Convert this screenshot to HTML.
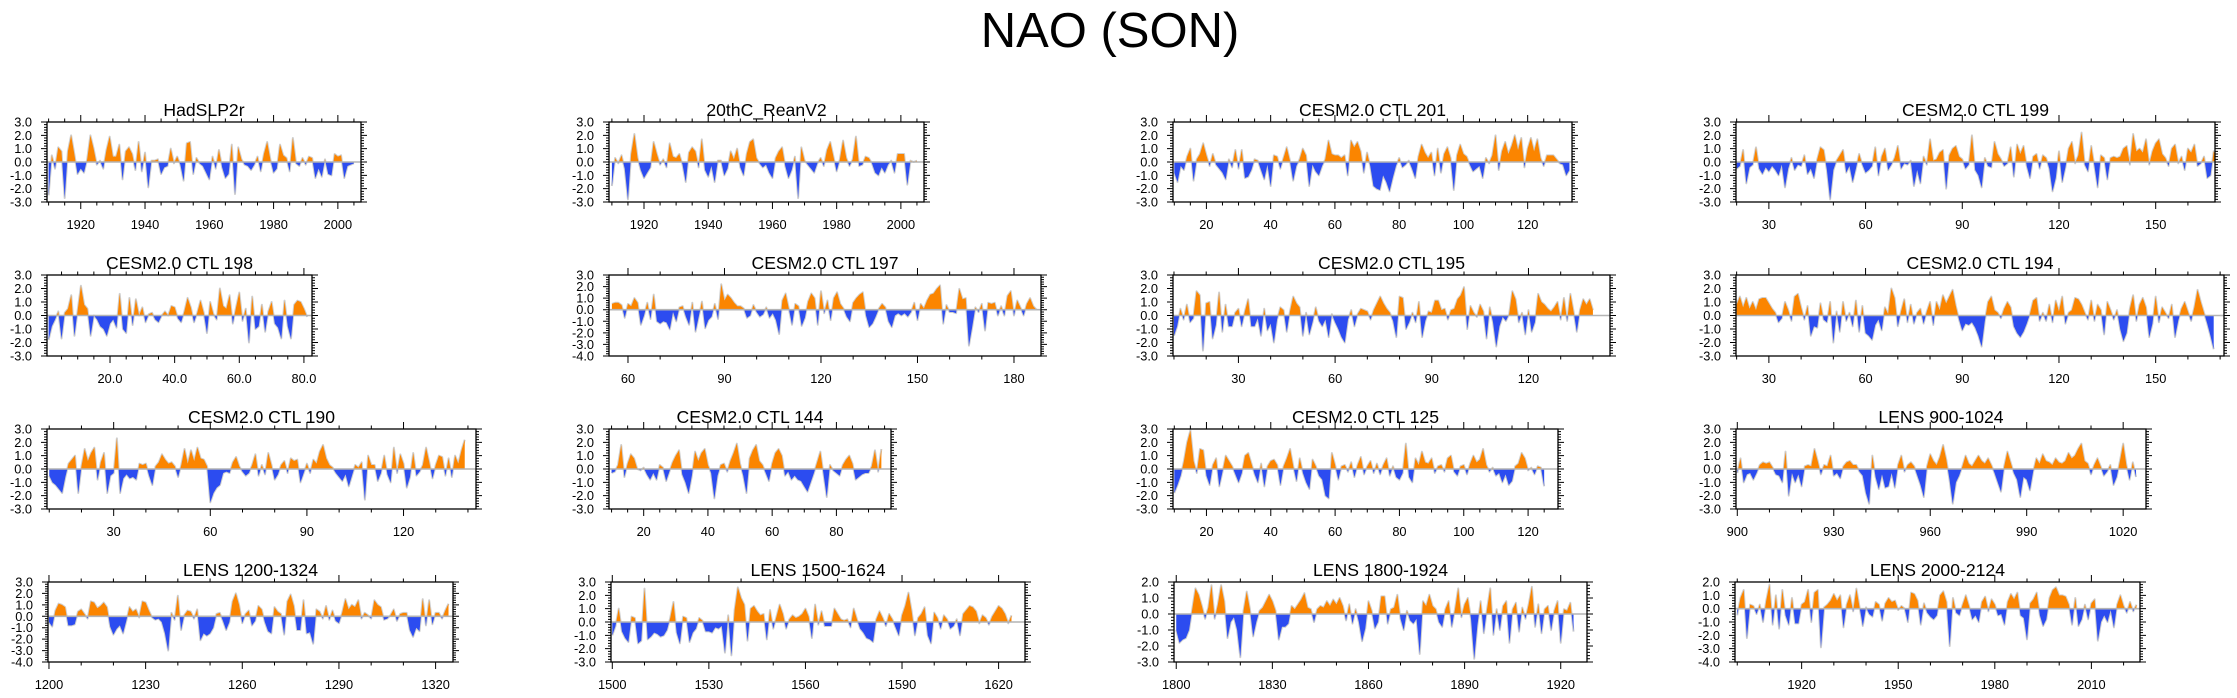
<!DOCTYPE html>
<html>
<head>
<meta charset="utf-8">
<style>
html,body{margin:0;padding:0;background:#fff;}
svg{display:block;font-family:"Liberation Sans",Arial,sans-serif;}
</style>
</head>
<body>
<svg id="chart" width="2237" height="698" viewBox="0 0 2237 698" xmlns="http://www.w3.org/2000/svg">
<rect width="2237" height="698" fill="#fff"/>
<text x="1110" y="47" font-size="49" text-anchor="middle" fill="#000">NAO (SON)</text>
</svg>
<script>
// ---------- data (one value per year) ----------
const hadslpStart = 1910;
const hadslpValues = [-2.5,0.5,-0.5,1.1,0.8,-2.7,0.8,2.0,0.6,-0.9,-0.5,-0.8,0.2,2.0,1.0,-0.2,0.1,-0.5,0.9,1.9,0.4,0.4,1.3,-1.3,0.8,1.1,0.6,-0.6,1.5,-0.7,0.7,-1.9,0.1,0.1,0.2,-0.9,-0.4,-0.3,1.0,-0.1,0.4,-0.2,-1.4,1.4,1.5,-0.9,0.3,-0.1,-0.3,-0.8,-1.3,0.4,-0.5,0.9,-0.4,-1.2,-0.9,1.3,-2.4,1.1,0.2,-0.2,-0.3,-0.6,-0.2,0.4,-0.7,0.6,1.5,0.2,-0.8,-0.5,1.3,0.5,0.3,-0.7,1.8,-0.1,-0.3,0.3,-0.2,0.4,0.3,-1.2,-0.5,-1.1,0.2,-0.9,-1.0,0.6,0.4,0.5,-1.2,-0.3,-0.2,-0.1];
const reanStart = 1910;
const reanValues = [-1.8,0.3,-0.1,0.5,-0.5,-2.8,0.6,2.1,0.3,-0.6,-1.2,-0.8,-0.4,1.5,0.6,-0.2,0.2,-0.4,1.4,0.4,0.3,0.6,-0.2,-1.5,0.7,1.1,0.8,-0.4,1.7,-0.6,-1.1,-0.3,-1.5,0.1,0.1,-1.0,-0.5,0.8,0.2,1.0,-0.4,-1.0,0.6,1.5,1.7,0.3,-0.1,-0.4,-0.2,-0.8,-1.2,0.3,0.8,1.1,-0.3,-1.2,-0.6,0.4,-2.7,1.1,0.1,-0.2,-0.5,-0.8,-0.1,0.3,-0.3,0.9,1.5,0.4,-0.7,0.2,1.6,0.3,-0.3,0.2,1.9,-0.3,-0.2,0.4,0.3,-0.1,-0.8,-1.0,-0.4,-0.8,-0.2,0.1,-0.8,0.6,0.6,0.6,-1.7,0.1,0.0,0.1];
const ctl201Start = 10;
const ctl201Values = [-0.8,-1.5,-0.3,-0.6,0.4,1.0,-1.4,0.2,0.6,1.4,0.5,-0.3,0.6,-0.2,-0.5,-0.8,-1.3,0.2,-0.4,0.9,-0.5,0.9,-1.2,-1.1,-0.6,0.2,0.1,-0.6,-1.3,-0.2,-1.8,0.5,0.4,-0.5,0.3,1.1,0.1,-1.4,-0.3,0.2,1.0,0.5,-1.8,-0.2,-0.7,-1.0,-0.3,0.2,1.6,0.6,0.5,0.5,0.3,0.5,-1.0,1.6,1.1,1.5,0.8,-0.8,0.7,-0.3,-1.8,-2.0,-2.1,-1.0,-1.5,-2.2,-1.2,-0.3,0.3,-0.4,-0.2,0.1,-0.5,-1.2,0.4,1.3,0.7,0.3,0.7,-1.0,1.0,-0.8,0.6,1.1,0.3,-2.1,0.5,1.3,0.6,0.4,-0.2,-0.7,-0.5,-0.3,-1.2,0.3,-0.1,0.5,2.0,-0.6,0.8,1.5,0.6,1.2,2.0,0.9,1.8,-0.4,1.0,1.8,0.8,1.7,0.3,-0.3,0.5,0.5,0.5,0.2,-0.1,-0.2,-1.0,-0.6];
const ctl199Start = 20;
const ctl199Values = [-0.5,-0.3,0.9,-1.6,-0.4,-0.2,1.1,-0.5,-0.9,-0.4,-0.7,-0.3,-0.6,-1.0,-0.2,-1.9,-0.5,0.3,-0.6,-0.2,-0.3,0.5,-0.9,-0.5,-1.2,0.2,1.1,0.9,-0.6,-2.8,-0.6,0.1,0.5,0.9,-0.8,-0.3,-1.5,-0.5,0.6,-0.2,-0.8,-0.6,-0.3,1.1,-1.0,0.4,1.0,-0.6,-0.2,0.3,1.2,-0.5,-0.1,-0.2,0.1,-1.8,-0.6,-1.6,0.4,-0.2,1.7,0.1,0.2,0.7,0.9,-2.0,0.5,1.0,1.2,0.4,0.2,-0.5,-0.2,2.0,-0.6,-1.0,-1.9,0.3,-0.3,-0.4,1.5,0.6,0.2,-0.3,-0.1,1.1,-1.1,1.3,0.6,1.2,-0.3,-1.2,0.4,0.6,-0.5,0.5,0.3,-0.5,-2.2,-1.2,0.8,-1.5,-0.4,1.0,1.5,-0.1,0.5,2.2,-0.2,-0.7,1.2,-0.3,-1.9,0.5,0.3,-1.3,0.3,0.4,0.3,0.4,1.0,1.2,-0.2,2.1,0.8,1.0,0.7,1.7,-0.2,0.8,1.4,1.7,0.6,0.3,-0.3,1.0,1.3,-0.1,0.4,-0.6,1.0,0.7,1.3,-0.3,-0.1,0.4,-1.2,-1.0,0.8,0.4,-0.3,0.5];
const ctl198Start = 1;
const ctl198Values = [-1.8,-0.8,-0.3,0.3,-1.7,0.2,0.5,1.5,-1.5,0.4,2.2,0.8,0.5,-1.5,0.0,-0.3,-0.8,-1.0,-1.5,-0.6,-0.3,-0.9,1.6,-1.0,-1.3,1.3,-0.7,1.2,0.0,0.6,-0.5,0.1,0.2,-0.3,-0.5,0.0,0.3,0.0,0.7,0.6,-0.2,-0.5,0.3,1.3,0.6,-0.5,0.2,1.1,0.2,-1.3,1.0,0.1,-0.3,2.0,0.7,0.5,1.5,-0.6,0.6,1.7,-0.4,0.5,-2.0,1.4,-1.0,-0.8,0.8,-1.2,0.3,1.0,-0.6,-0.9,-1.7,1.1,-0.8,-1.7,0.8,1.1,1.0,0.5,-0.1];
const ctl197Start = 55;
const ctl197Values = [0.5,0.6,0.6,0.4,-0.7,0.5,0.3,1.0,0.6,-1.3,-0.5,0.6,-0.8,1.3,-1.0,-1.2,-1.0,-1.1,-1.7,-0.2,-1.0,0.2,0.3,-0.6,-1.3,0.6,-1.9,-0.6,0.7,-1.6,-0.9,-0.6,0.5,-0.8,2.2,0.8,1.3,1.0,0.6,0.3,0.3,0.1,-0.7,-0.5,0.4,-0.2,-0.6,-0.4,0.2,-0.7,-0.3,-0.9,-2.1,0.8,1.4,0.1,-1.3,0.5,0.3,-1.4,-0.7,0.7,1.4,1.0,-1.3,1.6,-0.3,0.8,-0.9,1.0,1.5,0.5,0.1,-0.6,-1.0,0.6,1.0,1.3,1.5,-0.5,-1.5,-1.2,-0.6,0.1,0.5,0.2,-1.0,-1.5,-0.5,-0.3,-0.5,-0.3,-0.6,-0.2,0.6,-0.9,0.5,0.1,0.8,1.3,1.4,1.8,2.1,-1.2,0.4,-0.2,-0.2,-0.3,1.8,0.9,1.0,-3.1,-1.5,0.2,-0.2,0.5,-1.8,0.6,0.5,0.6,-0.5,0.3,-0.5,1.2,1.6,-0.5,0.8,0.2,-0.5,0.5,1.0,0.3,0.0];
const ctl195Start = 10;
const ctl195Values = [-1.5,-0.8,0.5,-0.3,0.8,-0.5,-0.2,1.8,1.5,-2.6,0.9,1.0,-1.7,-0.7,1.7,-1.2,0.8,-0.8,-0.8,0.2,0.5,-0.8,0.3,1.2,-0.8,-0.8,-0.2,-1.5,0.5,-1.1,-0.6,-2.0,-0.3,0.6,0.4,-1.2,0.3,1.4,0.9,0.6,-1.5,0.2,-1.4,-0.5,0.6,-0.4,-0.8,-0.3,-1.6,0.1,-0.5,-1.0,-1.6,-2.0,-0.3,0.4,-0.8,0.1,0.5,0.4,0.3,-0.3,0.4,0.9,1.4,0.9,0.5,0.2,-0.4,-1.6,1.4,1.3,-1.0,-0.5,0.2,-0.5,1.0,-1.6,-0.4,0.3,0.2,1.1,1.1,0.4,0.5,-0.3,0.4,0.5,1.2,1.5,2.1,-1.0,0.7,0.2,-0.1,0.8,0.3,-1.7,0.6,-0.5,-2.3,-0.8,-0.1,-0.4,0.1,1.8,1.2,-0.5,0.2,-1.4,0.4,-1.2,-0.5,1.6,1.0,0.8,0.5,0.3,0.6,1.0,-0.3,1.3,-0.4,1.6,0.3,-1.2,0.4,1.2,0.8,1.2,0.4];
const ctl194Start = 20;
const ctl194Values = [0.8,1.4,0.6,1.3,0.5,1.0,0.4,1.2,1.3,1.3,0.9,0.5,0.2,-0.5,-0.2,1.0,0.4,-0.4,1.4,1.6,0.6,-0.3,0.7,-1.5,-0.8,-0.9,0.9,-0.3,-0.5,1.0,-2.0,0.3,-1.2,1.0,-0.4,0.2,-0.8,1.1,-1.2,0.7,-1.3,-1.5,-1.8,-0.7,-0.3,-1.1,0.6,0.1,2.0,1.3,-0.8,0.3,1.2,-0.5,0.8,-0.6,0.2,0.5,-0.6,0.3,1.0,-0.7,1.0,0.4,1.5,0.9,1.4,1.9,0.7,-0.3,-1.1,-0.6,-0.7,-0.5,-0.9,-1.5,-2.3,-0.4,1.0,1.4,0.4,0.2,-0.2,0.5,1.0,0.6,-0.8,-1.3,-1.6,-1.2,-0.6,0.1,1.1,1.3,-0.4,0.2,-0.4,0.8,-0.5,1.1,0.3,1.4,-0.6,0.2,0.4,1.3,1.2,0.8,0.2,-0.3,1.1,-0.4,0.8,0.4,-1.4,1.0,0.4,-0.3,0.4,-1.0,-1.9,-1.3,0.5,1.5,-0.4,0.8,1.3,0.6,-1.6,-0.6,1.4,-0.5,0.6,0.2,-0.2,0.8,-1.6,-0.4,0.5,1.0,0.3,-0.4,0.6,1.9,1.0,0.2,-0.6,-1.5,-2.5];
const ctl190Start = 10;
const ctl190Values = [-0.5,-1.0,-1.2,-1.5,-1.8,-0.6,0.4,0.7,1.0,-1.8,0.2,1.5,0.6,1.2,1.6,-0.8,0.5,1.2,-1.8,-0.5,-0.3,2.3,-1.8,-0.7,-0.4,-0.7,-0.6,-0.8,0.4,0.3,0.4,-0.5,-1.2,0.2,0.5,1.1,0.7,0.4,0.5,0.2,-0.6,0.3,1.5,0.4,1.4,0.6,1.6,0.8,0.7,0.2,-2.5,-1.8,-1.4,-1.2,-0.3,-0.2,-0.3,0.5,0.9,0.2,-0.2,-0.5,-0.3,0.3,1.1,-0.5,0.3,-0.4,1.2,0.3,-0.8,-0.4,0.3,0.6,-0.3,0.8,0.6,0.7,-1.0,-0.3,0.4,-0.3,0.7,0.4,1.3,1.8,0.8,0.3,0.1,-0.3,-0.6,-0.9,-0.4,-1.3,-0.5,0.3,0.1,0.5,-2.3,1.0,0.3,0.3,-0.9,-0.3,1.0,-0.4,-1.0,1.6,-0.3,1.1,0.4,-1.4,-0.6,1.2,-0.5,-0.2,0.3,1.6,0.5,-0.7,0.3,1.0,0.9,-0.5,0.8,-0.6,1.0,0.4,1.4,2.2];
const ctl144Start = 10;
const ctl144Values = [-0.3,-0.2,0.3,1.8,-0.6,0.4,1.1,0.8,0.0,-0.1,0.1,-0.4,-0.8,-0.3,-0.8,0.3,0.1,-0.9,-0.2,0.5,1.0,1.4,-0.4,-1.0,-1.8,-0.5,1.3,0.6,1.2,1.5,0.3,-0.3,-2.2,-0.5,0.3,0.4,-0.2,0.6,1.2,1.9,0.4,-0.5,-1.8,0.8,1.4,1.8,0.6,0.3,-0.3,-0.9,0.4,1.2,1.5,1.0,-0.5,-0.2,-0.8,-0.5,-0.8,-0.9,-1.3,-1.7,-1.0,-0.3,0.5,1.3,-0.4,-2.1,0.3,-0.1,-0.3,-0.5,0.3,0.7,1.0,0.4,-0.8,-0.6,-0.4,-0.3,-0.3,0.2,1.4,-0.2,1.5];
const ctl125Start = 10;
const ctl125Values = [-1.8,-1.2,-0.5,0.6,2.0,2.9,0.6,-0.3,1.5,1.4,-0.5,-1.2,0.3,0.8,-1.3,-0.2,1.0,0.6,0.2,-0.4,-1.0,-0.3,1.0,1.2,0.4,-0.4,-1.0,0.4,-1.3,0.2,0.6,0.7,0.3,-1.2,0.2,0.8,1.5,0.2,-0.9,0.8,-0.3,-1.0,-1.5,0.7,0.2,-0.5,-0.8,-2.0,-2.2,1.2,0.3,-0.8,0.2,0.3,-0.2,0.5,-0.6,0.3,0.9,-0.4,0.2,0.6,-0.3,0.4,-0.4,0.3,0.8,-0.5,0.2,-0.6,-0.8,-0.3,1.9,-0.6,-1.0,0.8,0.3,1.3,0.5,0.4,0.8,-0.3,0.2,0.3,-0.2,0.8,1.0,-0.2,-0.5,0.2,0.3,-0.4,0.4,1.0,0.5,0.7,1.5,0.3,-0.2,0.1,-0.5,-0.3,-1.0,-0.4,-1.2,-0.9,0.2,0.4,1.2,0.8,-0.1,0.1,-0.4,0.2,0.1,-1.3];
const lens900Start = 900;
const lens900Values = [-0.3,0.8,-1.0,-0.4,-0.3,-0.8,-0.3,0.3,0.5,0.4,0.5,0.1,-0.4,-0.5,-1.0,1.3,-2.0,-0.3,-1.0,-0.4,-1.3,0.2,0.3,0.2,1.5,0.6,-0.4,0.3,0.2,1.0,-0.5,-0.3,-0.7,0.2,0.5,0.6,0.3,0.3,-0.2,-0.5,-1.8,-2.6,1.0,-0.6,-1.5,-0.4,-1.4,-1.3,-0.3,-1.4,0.3,1.0,-0.2,0.3,0.5,0.2,-0.5,-1.2,-2.1,0.2,1.1,0.6,0.3,0.9,1.8,0.7,-0.8,-2.6,-1.0,-0.5,0.2,1.0,0.4,0.2,0.6,1.0,0.6,0.4,0.8,0.3,-0.3,-1.0,-1.7,0.2,1.3,0.5,-0.3,-0.8,-2.1,-0.6,-0.8,-1.6,-0.2,0.8,0.4,1.1,0.6,0.5,0.3,0.8,0.5,0.4,0.6,1.2,0.8,1.0,1.5,1.9,0.6,0.4,-0.4,0.3,0.8,0.2,-0.5,-0.2,0.3,-1.2,-0.6,0.6,1.9,0.3,-0.8,0.5,-0.6];
const lens1200Start = 1200;
const lens1200Values = [-0.5,-0.9,0.5,1.1,1.0,0.8,-0.8,-0.8,-0.7,0.4,0.6,0.2,-0.2,1.3,1.2,0.7,0.9,1.2,0.8,-0.9,-1.6,-1.1,-0.8,-1.5,-0.4,0.8,0.4,0.6,-0.1,1.3,1.2,0.5,-0.1,-0.3,-0.2,-0.5,-1.5,-3.0,0.3,-0.3,1.8,-1.2,0.1,0.5,0.4,-0.2,0.6,-2.1,-1.5,-1.7,-1.5,-1.0,0.2,0.3,-0.4,-1.2,-0.5,1.3,2.0,1.0,-0.6,0.2,0.5,-0.8,-0.4,0.9,0.6,-0.5,-1.3,-1.5,0.8,0.4,0.2,-1.6,1.3,1.9,0.9,-1.2,-1.2,1.4,-1.5,-1.4,-2.4,0.6,0.4,-0.2,0.9,-0.3,0.5,-0.4,-0.6,0.3,1.5,0.6,1.0,0.8,1.4,-0.2,0.3,0.1,-0.2,1.4,1.0,0.8,-0.3,-0.2,0.1,0.6,-0.4,0.2,0.3,0.3,-1.2,-1.8,-1.0,-1.3,1.5,-0.8,1.4,-0.7,0.3,0.3,-0.2,0.5,1.1];
const lens1500Start = 1500;
const lens1500Values = [-1.0,-0.3,1.0,-0.7,-1.2,-1.5,0.4,0.3,-1.6,-1.4,2.5,-1.3,-1.1,-0.8,-0.9,-1.1,-1.0,-0.6,0.3,1.5,-0.8,-1.6,0.4,0.3,-1.5,-0.8,-0.5,0.3,0.1,-0.7,-0.7,-0.8,-0.4,-0.5,-0.3,-2.3,0.5,-2.5,0.9,2.6,1.8,1.3,-1.4,1.0,1.2,0.8,0.5,0.6,-1.3,0.9,-0.5,0.4,1.3,0.6,-0.5,0.2,0.5,0.3,0.4,0.6,1.0,0.4,-1.2,1.3,-0.2,0.8,-0.3,-0.3,-0.3,1.0,0.6,0.2,0.1,0.2,-0.4,1.0,0.2,-0.5,-0.8,-1.2,-1.3,-1.5,0.2,0.8,0.3,-0.3,0.6,0.2,-0.4,-1.0,0.5,1.2,2.2,0.8,-1.0,0.3,0.6,1.1,-1.0,-1.6,0.7,0.3,-0.5,0.5,0.2,-0.5,-0.3,0.2,-1.0,0.6,0.9,1.2,1.1,0.8,-0.1,0.5,0.3,-0.2,0.4,0.8,1.2,1.0,0.6,-0.1,0.5];
const lens1800Start = 1800;
const lens1800Values = [-1.0,-1.8,-1.6,-1.5,-1.0,0.3,1.6,1.2,0.5,-0.3,0.4,1.8,-0.3,0.6,1.8,0.8,-1.5,-0.5,-0.2,-1.0,-2.7,0.2,1.4,0.3,-1.4,-0.5,0.2,0.4,0.8,1.2,0.8,0.2,-1.6,-0.8,-0.8,-0.6,0.5,0.3,0.6,0.9,1.3,0.4,0.3,-0.5,0.3,0.5,0.4,0.8,0.5,0.9,0.6,1.0,0.5,-0.4,0.6,-0.6,0.3,-0.5,-1.7,-0.9,0.8,0.2,-0.9,-0.5,1.1,1.1,-0.6,0.3,0.4,1.2,-0.3,-1.0,0.2,-0.4,-0.6,-0.3,-2.5,0.8,0.5,1.2,0.5,0.3,-0.5,-0.8,0.3,0.8,-0.8,0.3,1.6,-0.2,0.6,1.0,-0.3,-2.8,-0.7,0.8,-1.2,0.3,1.6,-1.3,0.3,-1.0,0.5,0.8,-1.8,0.3,0.7,-1.1,0.4,-0.3,0.6,1.7,-0.8,0.6,-1.2,0.3,0.5,-1.0,0.2,0.8,-1.8,0.3,0.2,0.7,-1.1];
const lens2000Start = 1900;
const lens2000Values = [-0.5,0.8,1.4,-2.2,0.3,0.2,-0.4,0.3,-1.0,0.6,1.8,-1.2,1.0,-1.5,1.4,-0.5,-1.2,0.8,-1.1,-1.1,0.3,0.5,1.4,-1.0,1.2,1.4,-2.9,0.1,0.3,0.6,1.1,0.6,1.0,-1.4,0.3,1.0,-0.2,1.5,0.1,-1.3,0.1,-0.4,-0.6,0.5,0.3,-0.9,0.4,0.8,0.5,0.6,-0.1,0.2,0.0,-1.0,1.2,1.1,0.6,-1.2,0.4,-0.3,-0.6,-0.8,-0.5,1.0,1.3,0.5,-2.8,0.8,-0.3,-0.5,0.3,1.0,0.2,-0.8,-0.5,-1.0,0.5,0.9,-0.2,0.7,0.3,-0.5,-0.4,-1.2,0.5,1.1,0.7,1.2,-0.5,-0.7,-2.3,0.4,0.7,1.2,-0.5,-1.3,-0.8,0.8,1.4,1.6,1.0,1.0,0.9,0.3,-1.2,0.8,-1.3,-0.8,0.3,-0.8,0.4,0.7,-2.4,-1.0,-0.5,-1.0,-0.1,-1.4,0.3,1.0,0.2,-0.3,0.5,-0.2,0.3];

// ---------- panel layout ----------
const panels = [
 {name:'hadslp2r', title:'HadSLP2r', start:hadslpStart, vals:hadslpValues, l:47, r:361, t:122, b:202, x0:1909.5, x1:2007.2, y0:-3, y1:3, maj:20, min:5, dec:0},
 {name:'20thc-reanv2', title:'20thC_ReanV2', start:reanStart, vals:reanValues, l:609, r:924, t:122, b:202, x0:1909.1, x1:2007.2, y0:-3, y1:3, maj:20, min:5, dec:0},
 {name:'ctl-201', title:'CESM2.0 CTL 201', start:ctl201Start, vals:ctl201Values, l:1173, r:1572, t:122, b:202, x0:9.6, x1:133.8, y0:-3, y1:3, maj:20, min:5, dec:0},
 {name:'ctl-199', title:'CESM2.0 CTL 199', start:ctl199Start, vals:ctl199Values, l:1736, r:2215, t:122, b:202, x0:19.8, x1:168.4, y0:-3, y1:3, maj:30, min:10, dec:0},
 {name:'ctl-198', title:'CESM2.0 CTL 198', start:ctl198Start, vals:ctl198Values, l:47, r:312, t:275, b:356, x0:0.5, x1:82.5, y0:-3, y1:3, maj:20, min:5, dec:1},
 {name:'ctl-197', title:'CESM2.0 CTL 197', start:ctl197Start, vals:ctl197Values, l:609, r:1041, t:275, b:356, x0:54.1, x1:188.4, y0:-4, y1:3, maj:30, min:10, dec:0},
 {name:'ctl-195', title:'CESM2.0 CTL 195', start:ctl195Start, vals:ctl195Values, l:1173, r:1610, t:275, b:356, x0:9.7, x1:145.3, y0:-3, y1:3, maj:30, min:10, dec:0},
 {name:'ctl-194', title:'CESM2.0 CTL 194', start:ctl194Start, vals:ctl194Values, l:1736, r:2224, t:275, b:356, x0:19.8, x1:171.2, y0:-3, y1:3, maj:30, min:10, dec:0},
 {name:'ctl-190', title:'CESM2.0 CTL 190', start:ctl190Start, vals:ctl190Values, l:47, r:476, t:429, b:509, x0:9.3, x1:142.5, y0:-3, y1:3, maj:30, min:10, dec:0},
 {name:'ctl-144', title:'CESM2.0 CTL 144', start:ctl144Start, vals:ctl144Values, l:609, r:891, t:429, b:509, x0:9.2, x1:97, y0:-3, y1:3, maj:20, min:5, dec:0},
 {name:'ctl-125', title:'CESM2.0 CTL 125', start:ctl125Start, vals:ctl125Values, l:1173, r:1558, t:429, b:509, x0:9.6, x1:129.3, y0:-3, y1:3, maj:20, min:5, dec:0},
 {name:'lens-900-1024', title:'LENS 900-1024', start:lens900Start, vals:lens900Values, l:1736, r:2146, t:429, b:509, x0:899.6, x1:1027.1, y0:-3, y1:3, maj:30, min:10, dec:0},
 {name:'lens-1200-1324', title:'LENS 1200-1324', start:lens1200Start, vals:lens1200Values, l:48, r:453, t:582, b:662, x0:1199.7, x1:1325.4, y0:-4, y1:3, maj:30, min:10, dec:0},
 {name:'lens-1500-1624', title:'LENS 1500-1624', start:lens1500Start, vals:lens1500Values, l:611, r:1025, t:582, b:662, x0:1499.6, x1:1628.2, y0:-3, y1:3, maj:30, min:10, dec:0},
 {name:'lens-1800-1924', title:'LENS 1800-1924', start:lens1800Start, vals:lens1800Values, l:1174, r:1587, t:582, b:662, x0:1799.3, x1:1928.2, y0:-3, y1:2, maj:30, min:10, dec:0},
 {name:'lens-2000-2124', title:'LENS 2000-2124', start:lens2000Start, vals:lens2000Values, l:1735, r:2140, t:582, b:662, x0:1899.3, x1:2025.1, y0:-4, y1:2, maj:30, min:10, dec:0}
];

const NS = 'http://www.w3.org/2000/svg';
const svg = document.getElementById('chart');
function mk(tag, attrs, parent){
  const e = document.createElementNS(NS, tag);
  for (const k in attrs) e.setAttribute(k, attrs[k]);
  (parent || svg).appendChild(e);
  return e;
}

panels.forEach(function(p, pi){
  const g = mk('g', {});
  
  
  const xs = function(v){ return p.l + (v - p.x0) / (p.x1 - p.x0) * (p.r - p.l); };
  const ys = function(v){ return p.b - (v - p.y0) / (p.y1 - p.y0) * (p.b - p.t); };
  const zy = ys(0);

  // clip paths
  const defs = mk('defs', {}, g);
  const cpA = mk('clipPath', {id:'ca' + pi}, defs);
  mk('rect', {x:p.l, y:p.t, width:p.r - p.l, height:zy - p.t}, cpA);
  const cpB = mk('clipPath', {id:'cb' + pi}, defs);
  mk('rect', {x:p.l, y:zy, width:p.r - p.l, height:p.b - zy}, cpB);
  const cpBox = mk('clipPath', {id:'cx' + pi}, defs);
  mk('rect', {x:p.l, y:p.t, width:p.r - p.l, height:p.b - p.t}, cpBox);

  const pts = p.vals.map(function(v, i){ return xs(p.start + i).toFixed(2) + ',' + ys(v).toFixed(2); });
  const firstX = xs(p.start).toFixed(2), lastX = xs(p.start + p.vals.length - 1).toFixed(2);
  const poly = firstX + ',' + zy.toFixed(2) + ' ' + pts.join(' ') + ' ' + lastX + ',' + zy.toFixed(2);

  const wrap = mk('g', {'clip-path':'url(#cx' + pi + ')'}, g);
  const line = mk('polyline', {points:pts.join(' '), fill:'none', stroke:'#cfcfcf', 'stroke-width':2, 'stroke-linejoin':'round'}, wrap);
  
  
  const pos = mk('polygon', {points:poly, fill:'#fb8500', 'clip-path':'url(#ca' + pi + ')'}, wrap);
  
  
  const neg = mk('polygon', {points:poly, fill:'#2c4cf0', 'clip-path':'url(#cb' + pi + ')'}, wrap);
  
  
  const zl = mk('line', {x1:p.l, x2:p.r, y1:zy, y2:zy, stroke:'#b4b4b4', 'stroke-width':1.6}, g);
  
  

  // frame
  const box = mk('rect', {x:p.l, y:p.t, width:p.r - p.l, height:p.b - p.t, fill:'none', stroke:'#000', 'stroke-width':1.3}, g);
  
  

  // y ticks
  let tp = '';
  const nMinY = Math.round((p.y1 - p.y0) / 0.2);
  for (let k = 0; k <= nMinY; k++) {
    const v = p.y0 + k * 0.2;
    const y = ys(v).toFixed(2);
    const major = Math.abs(v - Math.round(v)) < 1e-6;
    const len = major ? 6 : 3;
    tp += 'M' + (p.l - len) + ' ' + y + 'H' + p.l + 'M' + p.r + ' ' + y + 'H' + (p.r + len);
    if (major) {
      const t = mk('text', {x:p.l - 15, y:(+y + 4.5).toFixed(2), 'font-size':12.8, 'text-anchor':'end', fill:'#000'}, g);
      t.textContent = Math.round(v).toFixed(1);
      
      
    }
  }
  // x ticks
  const firstMin = Math.ceil(p.x0 / p.min) * p.min;
  for (let v = firstMin; v <= p.x1; v += p.min) {
    const x = xs(v).toFixed(2);
    const major = v % p.maj === 0;
    const len = major ? 7 : 3.5;
    tp += 'M' + x + ' ' + p.b + 'V' + (p.b + len) + 'M' + x + ' ' + p.t + 'V' + (p.t - len);
    if (major) {
      const t = mk('text', {x:x, y:p.b + 27, 'font-size':12.8, 'text-anchor':'middle', fill:'#000'}, g);
      t.textContent = v.toFixed(p.dec);
      
      
    }
  }
  const ticks = mk('path', {d:tp, stroke:'#000', 'stroke-width':1, fill:'none'}, g);
  
  

  const title = mk('text', {x:((p.l + p.r) / 2).toFixed(1), y:p.t - 6, 'font-size':17.6, 'text-anchor':'middle', fill:'#000'}, g);
  title.textContent = p.title;
  
  
});
</script>
</body>
</html>
